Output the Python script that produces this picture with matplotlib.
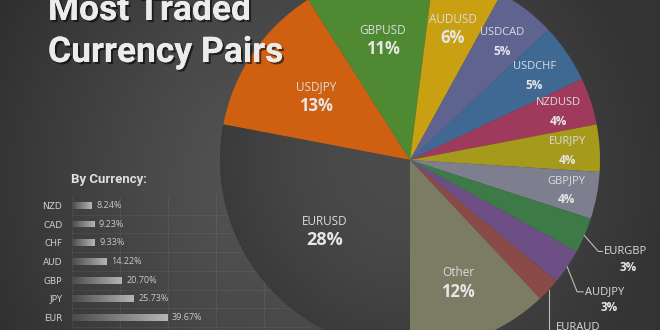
import numpy as np
import matplotlib
matplotlib.use('Agg')
import matplotlib.pyplot as plt
import matplotlib.patheffects as pe
from matplotlib.colors import LinearSegmentedColormap

W, H = 660, 330

# pie: share of FX turnover by pair (clockwise, starting straight down)
pairs = ['EURUSD', 'USDJPY', 'GBPUSD', 'AUDUSD', 'USDCAD', 'USDCHF', 'NZDUSD',
         'EURJPY', 'GBPJPY', 'EURGBP', 'AUDJPY', 'EURAUD', 'Other']
shares = [28, 13, 11, 6, 5, 5, 4, 4, 4, 3, 3, 2, 12]

# bars: share by single currency
currencies = ['NZD', 'CAD', 'CHF', 'AUD', 'GBP', 'JPY', 'EUR']
currency_pct = [8.24, 9.23, 9.33, 14.22, 20.70, 25.73, 39.67]

colors = ['#404040', '#cf6012', '#4f8a33', '#c9a012', '#5e6390', '#3f6993',
          '#a03a5c', '#a69a1c', '#7e7f8e', '#3e7a48', '#6d4f86', '#8a4a48',
          '#7b7c63']
label_r = [0.58, 0.60, 0.65, 0.73, 0.79, 0.79, 0.82, 0.83, 0.84, None, None, None, 0.69]
pct_size = [13, 12, 12, 12, 8.5, 8.5, 8.5, 8.5, 8.5, 8.5, 8.5, 8.5, 12]
name_size = [8.5, 8.5, 8.5, 8.5, 8, 8, 8, 8, 8, 8, 8, 8, 8.5]

fig = plt.figure(figsize=(6.6, 3.3), dpi=100)

# background with soft radial light
bg = fig.add_axes([0, 0, 1, 1], zorder=0)
yy, xx = np.mgrid[0:H, 0:W]
d = np.sqrt(((xx - 290) / 1.0) ** 2 + ((yy - 180) / 0.9) ** 2)
v = 0.33 - 0.13 * np.clip(d / 380, 0, 1) ** 1.3
v = v - 0.03 * np.clip((200 - xx) / 200, 0, 1)
bg.imshow(np.dstack([v, v, v]), extent=(0, W, 0, H), origin='upper', aspect='auto')
bg.set_axis_off()

# small bar chart by currency
bax = fig.add_axes([72 / W, 0, 240 / W, (H - 196) / H], zorder=1)
bax.patch.set_alpha(0)
ypos = np.arange(len(currencies))
bars = bax.barh(ypos, currency_pct, height=0.36, color='none')
grad = LinearSegmentedColormap.from_list('g', ['#4c4c4c', '#b4b4b4'])
for b, val in zip(bars, currency_pct):
    x0, y0 = b.get_x(), b.get_y()
    im = bax.imshow(np.linspace(0, 1, 64).reshape(1, -1), cmap=grad, aspect='auto',
                    extent=(x0, x0 + b.get_width(), y0 + b.get_height(), y0), zorder=2)
    im.set_clip_path(b)
    bax.text(val + 2, y0 + b.get_height() / 2, f'{val:.2f}%', va='center', ha='left',
             fontsize=6.5, color='#c8c8c8', family='Open Sans')
bax.set_xlim(0, 100)
bax.set_ylim((H - 196) / 18.7 - 0.5, -0.5)
for gx in range(0, 100, 20):
    bax.axvline(gx, color='#ffffff', alpha=0.06, lw=0.8, zorder=1)
for gy in np.arange(0.5, 7.5, 1):
    bax.axhline(gy, color='#ffffff', alpha=0.05, lw=0.8, zorder=1)
bax.set_yticks(ypos, currencies)
bax.set_xticks([])
bax.tick_params(length=0, pad=7, labelsize=6.5, labelcolor='#d0d0d0')
for s in bax.spines.values():
    s.set_visible(False)
fig.text(71 / W, 1 - 179 / H, 'By Currency:', fontsize=9.5, fontweight='bold',
         color='#dedede', family='Roboto', va='center', ha='left')

# pie in pixel coordinates
ax = fig.add_axes([0, 0, 1, 1], zorder=2)
ax.patch.set_alpha(0)
cx, cy, R = 410, H - 160, 190
wedges, _ = ax.pie(shares, colors=colors, startangle=-90, counterclock=False,
                   center=(cx, cy), radius=R, wedgeprops=dict(linewidth=0))
ax.set_xlim(0, W)
ax.set_ylim(0, H)
ax.set_aspect('auto')
ax.set_axis_off()

# darker rim on the EURUSD slice
rr = np.sqrt((xx - cx) ** 2 + (yy - 160) ** 2) / R
shade = 0.295 - 0.065 * np.clip(rr, 0, 1) ** 2
im = ax.imshow(np.dstack([shade, shade, shade]), extent=(0, W, 0, H), origin='upper',
               aspect='auto', zorder=1.5)
im.set_clip_path(wedges[0])

txt = '#e6e6e6'
for w, name, val, lr, ps, ns in zip(wedges, pairs, shares, label_r, pct_size, name_size):
    mid = np.deg2rad((w.theta1 + w.theta2) / 2)
    if lr is not None:
        px, py = cx + lr * R * np.cos(mid), cy + lr * R * np.sin(mid)
        ax.text(px, py + 9, name, ha='center', va='center', fontsize=ns, color='#dcdcdc',
                family='Open Sans', zorder=3)
        ax.text(px, py - 10, f'{val}%', ha='center', va='center', fontsize=ps,
                fontweight='bold', color=txt, family='Open Sans', zorder=3)

# outside labels with leader lines
outside = {'EURGBP': [(14, -16), (18, -16)], 'AUDJPY': [(10, -25), (16, -25)],
           'EURAUD': [(0, -45), (0, -45)]}
for w, name, val in zip(wedges, pairs, shares):
    if name not in outside:
        continue
    mid = np.deg2rad((w.theta1 + w.theta2) / 2)
    sx, sy = cx + R * np.cos(mid), cy + R * np.sin(mid)
    (dx1, dy1), (dx2, dy2) = outside[name]
    ax.plot([sx, sx + dx1, sx + dx2], [sy, sy + dy1, sy + dy2], color='#bdbdbd', lw=0.8, zorder=3)
    if name == 'EURAUD':
        tx, ty = sx + 7, H - 327
    else:
        tx, ty = sx + dx2 + 2, sy + dy2
    ax.text(tx, ty, name, ha='left', va='center', fontsize=8, color='#dcdcdc',
            family='Open Sans', zorder=3)
    ax.text(tx + 24, ty - 16, f'{val}%', ha='center', va='center', fontsize=8.5,
            fontweight='bold', color=txt, family='Open Sans', zorder=3)

shadow = [pe.withSimplePatchShadow(offset=(1.5, -1.5), shadow_rgbFace='k', alpha=0.55), pe.Normal()]
for line, base in [('Most Traded', 20), ('Currency Pairs', 62)]:
    fig.text(48 / W, 1 - base / H, line, fontsize=25.5, fontweight='bold', color='#ececec',
             family='Roboto', va='baseline', ha='left', path_effects=shadow, zorder=5)

fig.savefig('out.png', dpi=100)
